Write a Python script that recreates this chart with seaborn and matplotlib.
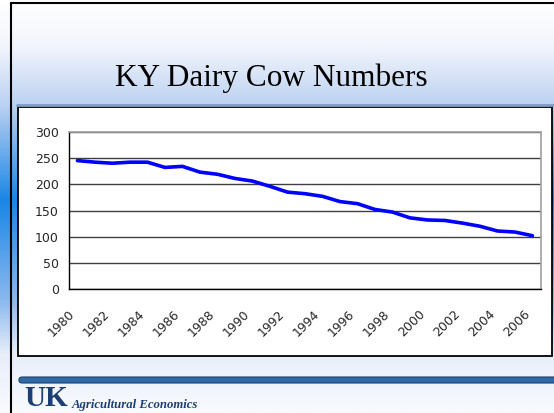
import matplotlib
matplotlib.use("Agg")
import matplotlib.pyplot as plt
import numpy as np
import seaborn as sns
from matplotlib.colors import LinearSegmentedColormap
from matplotlib.patches import Rectangle, FancyBboxPatch
from matplotlib.lines import Line2D

# KY dairy cow numbers (thousand head)
years = list(range(1980, 2007))
cows = [245, 242, 240, 242, 242, 232, 234, 223, 219, 211, 206, 196, 185, 182,
        177, 167, 163, 152, 147, 136, 132, 131, 126, 120, 111, 109, 102]
label_years = list(range(1980, 2007, 2))
y_ticks = [0, 50, 100, 150, 200, 250, 300]

W, H = 554, 413

sns.set_style('white')
plt.rcParams['font.family'] = ['DejaVu Sans']

fig = plt.figure(figsize=(W / 100, H / 100), dpi=100)

# slide background: vertical gradient
bg = fig.add_axes([0, 0, 1, 1], zorder=0)
bg.set_axis_off()
stops = [(0.0, '#ffffff'), (45 / H, '#f2f5fc'), (104 / H, '#bcd2f2'),
         (200 / H, '#1a86e6'), (300 / H, '#8ab8ee'), (355 / H, '#e8eefa'),
         (1.0, '#f8fafe')]
cmap = LinearSegmentedColormap.from_list('slide', stops)
grad = np.linspace(0, 1, 400).reshape(-1, 1)
bg.imshow(grad, aspect='auto', cmap=cmap, extent=[0, 1, 0, 1], origin='upper')
bg.set_xlim(0, 1)
bg.set_ylim(0, 1)

def fx(px):
    return px / W

def fy(py):
    return 1 - py / H

# slide edges
bg.add_line(Line2D([fx(10.5), fx(10.5)], [0, fy(3)], color='black', lw=1.5))
bg.add_line(Line2D([fx(10.5), 1], [fy(3), fy(3)], color='black', lw=1.5))
bg.add_line(Line2D([fx(17), 1], [fy(104.5), fy(104.5)], color='#7f9cc4', lw=2))

# chart box
bg.add_patch(Rectangle((fx(17.5), fy(356)), fx(534), 249 / H,
                       facecolor='white', edgecolor='black', lw=1.3))

# title
fig.text(fx(271), fy(78), 'KY Dairy Cow Numbers', ha='center', va='center',
         fontsize=22.5, family=['Liberation Serif', 'DejaVu Serif'], color='black')

# bottom bar + logo
bg.add_patch(FancyBboxPatch((fx(19), fy(383)), fx(545), 6 / H,
                            boxstyle='round,pad=0,rounding_size=0.006',
                            facecolor='#2f6aa8', edgecolor='#1e3e6a', lw=0.8))
fig.text(fx(24), fy(412.5), 'UK', ha='left', va='bottom', fontsize=21,
         fontweight='bold', family=['Liberation Serif', 'DejaVu Serif'], color='#1b3f73')
fig.text(fx(72), fy(408), 'Agricultural Economics', ha='left', va='baseline',
         fontsize=9.2, fontweight='bold', style='italic',
         family=['Liberation Serif', 'DejaVu Serif'], color='#1b3f73')

# plot area
ax = fig.add_axes([fx(68.7), fy(289.3), fx(541.2 - 68.7), (289.3 - 131.7) / H], zorder=2)
ax.set_facecolor('white')
sns.lineplot(x=years, y=cows, ax=ax, color='#0000ff', linewidth=2.6, zorder=3)

ax.set_xlim(1979.5, 2006.5)
ax.set_ylim(0, 300)
ax.set_yticks(y_ticks)
ax.set_yticklabels([str(v) for v in y_ticks], fontsize=9)
ax.set_xticks(label_years)
ax.set_xticklabels([str(y) for y in label_years], fontsize=9, rotation=45,
                   ha='right', va='top', rotation_mode='default')
ax.set_xticks(np.arange(1979.5, 2007, 1), minor=True)
ax.tick_params(axis='x', which='major', length=0, pad=13)
ax.tick_params(axis='x', which='minor', length=5, width=1, color='black', direction='out')
ax.tick_params(axis='y', length=5, width=1, color='black', direction='out', pad=2)
ax.yaxis.grid(True, color='#404040', linewidth=1)
ax.xaxis.grid(False)
ax.set_axisbelow(True)
for side in ['left', 'bottom']:
    ax.spines[side].set_color('black')
    ax.spines[side].set_linewidth(1)
for side in ['top', 'right']:
    ax.spines[side].set_visible(True)
    ax.spines[side].set_color('#a0a0a0')
    ax.spines[side].set_linewidth(1.2)
ax.set_xlabel('')
ax.set_ylabel('')

fig.savefig('out.png', dpi=100)
